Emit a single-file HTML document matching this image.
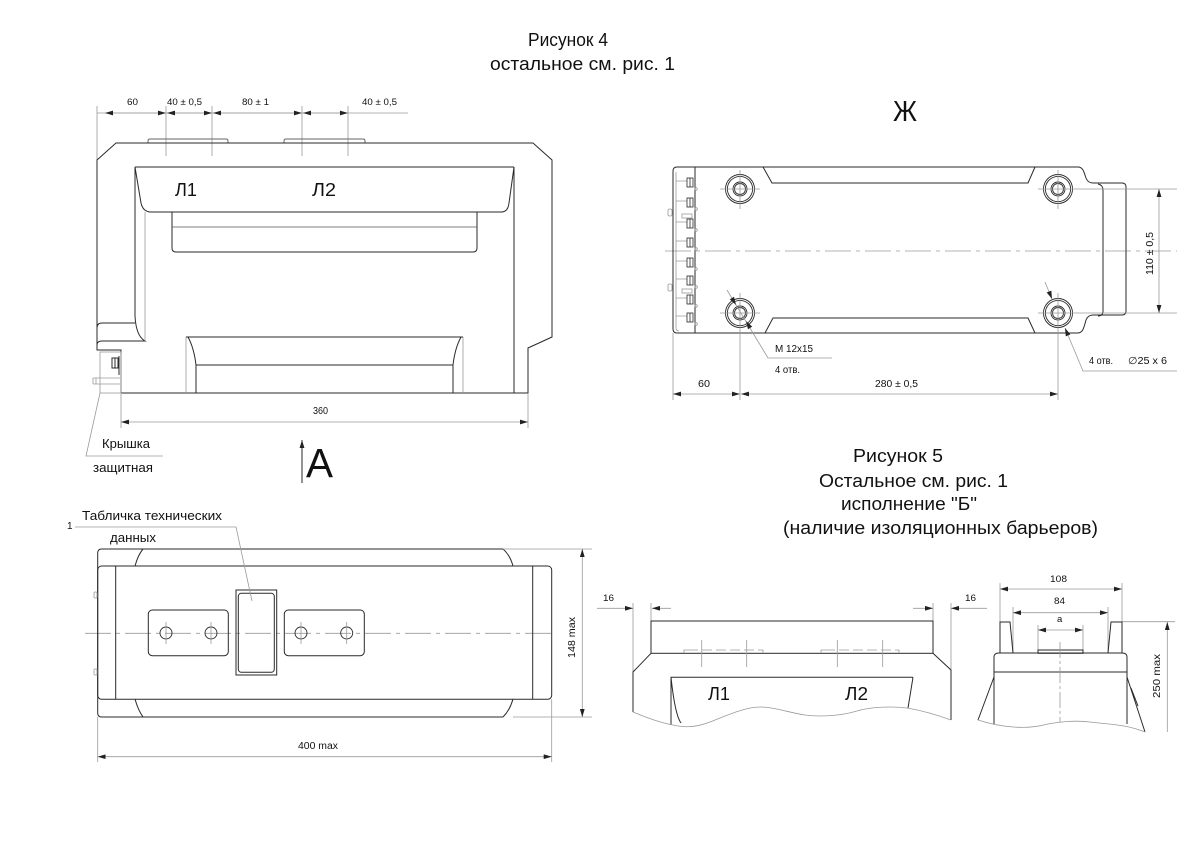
<!DOCTYPE html>
<html><head><meta charset="utf-8"><style>
html,body{margin:0;padding:0;background:#fff;}
svg{display:block;}
text{font-family:"Liberation Sans","DejaVu Sans",sans-serif;fill:#111;}
.d{stroke:#2a2a2a;stroke-width:1;fill:none;}
.g{stroke:#9a9a9a;stroke-width:.8;fill:none;}
.c{stroke:#9a9a9a;stroke-width:.8;fill:none;stroke-dasharray:26,5,4,5;}
.m{stroke:#9a9a9a;stroke-width:.8;fill:none;}
</style></head><body>
<svg width="1191" height="842" viewBox="0 0 1191 842" xmlns="http://www.w3.org/2000/svg">
<defs>
<marker id="ar" viewBox="0 0 10 6" refX="10" refY="3" markerWidth="8" markerHeight="4.8" orient="auto-start-reverse" markerUnits="userSpaceOnUse"><path d="M0,0L10,3L0,6z" fill="#222"/></marker>
</defs>
<rect width="1191" height="842" fill="#fff"/>

<!-- Titles -->
<text x="528" y="46" font-size="18" textLength="80" lengthAdjust="spacingAndGlyphs">Рисунок 4</text>
<text x="490" y="70" font-size="18" textLength="185" lengthAdjust="spacingAndGlyphs">остальное см. рис. 1</text>
<text x="893" y="121" font-size="29" textLength="24" lengthAdjust="spacingAndGlyphs">Ж</text>

<text x="853" y="462" font-size="18" textLength="90" lengthAdjust="spacingAndGlyphs">Рисунок 5</text>
<text x="819" y="487" font-size="18" textLength="189" lengthAdjust="spacingAndGlyphs">Остальное см. рис. 1</text>
<text x="841" y="510" font-size="18" textLength="136" lengthAdjust="spacingAndGlyphs">исполнение "Б"</text>
<text x="783" y="534" font-size="18" textLength="315" lengthAdjust="spacingAndGlyphs">(наличие изоляционных барьеров)</text>

<!-- ========== Top-left drawing (Fig 4 front) ========== -->
<line class="g" x1="97" y1="113" x2="408" y2="113"/>
<line class="m" x1="105" y1="113" x2="166" y2="113" marker-start="url(#ar)" marker-end="url(#ar)"/>
<line class="m" x1="167" y1="113" x2="212" y2="113" marker-start="url(#ar)" marker-end="url(#ar)"/>
<line class="m" x1="213" y1="113" x2="302" y2="113" marker-start="url(#ar)" marker-end="url(#ar)"/>
<line class="m" x1="303" y1="113" x2="348" y2="113" marker-start="url(#ar)" marker-end="url(#ar)"/>
<path class="g" d="M97,106V160 M166,106V156 M212,106V156 M302,106V156 M348,106V156"/>
<text x="127" y="105" font-size="9.5" textLength="11" lengthAdjust="spacingAndGlyphs">60</text>
<text x="167" y="105" font-size="9.5" textLength="35" lengthAdjust="spacingAndGlyphs">40 ± 0,5</text>
<text x="242" y="105" font-size="9.5" textLength="27" lengthAdjust="spacingAndGlyphs">80 ± 1</text>
<text x="362" y="105" font-size="9.5" textLength="35" lengthAdjust="spacingAndGlyphs">40 ± 0,5</text>

<path class="d" style="stroke:#666" d="M148,143V141Q148,139 150,139H226Q228,139 228,141V143 M284,143V141Q284,139 286,139H363Q365,139 365,141V143"/>
<path class="d" d="M97,160L116,143H533L552,160V337L528,348V393H121V350H97Z"/>
<path class="d" d="M135,167H514 M135,167L141,203Q143,212 151,212H501Q508,212 509,203L514,167"/>
<path class="d" d="M135,167V316Q136,336 145,341H102Q97,341 97,345"/>
<path class="d" d="M97,328Q97,323 102,323H135"/>
<line class="g" x1="145" y1="212" x2="145" y2="341"/>
<line class="d" x1="514" y1="167" x2="514" y2="393"/>
<path class="d" d="M172,212V248Q172,252 176,252H473Q477,252 477,248V212"/>
<line class="d" style="stroke:#555;stroke-width:.8" x1="172" y1="227" x2="477" y2="227"/>
<path class="g" d="M186,393V337 M463,337V393"/>
<path class="d" d="M186,337H463 M188,337Q194,348 196,365V393 M461,337Q455,348 453,365V393 M196,365H453"/>
<rect class="g" x="100" y="352" width="21" height="41"/>
<rect class="d" x="112" y="358" width="6" height="10"/>
<line class="d" x1="115" y1="358" x2="115" y2="368"/>
<line class="d" x1="119" y1="356" x2="119" y2="375"/>
<path class="g" d="M93,378H120 M93,384H120 M93,378V384 M96,378V384"/>
<path class="g" d="M121,394V428 M528,394V428"/>
<line class="m" x1="121" y1="422" x2="528" y2="422" marker-start="url(#ar)" marker-end="url(#ar)"/>
<text x="313" y="414" font-size="10" textLength="15" lengthAdjust="spacingAndGlyphs">360</text>
<path class="g" d="M100,393L86,456H163"/>
<text x="102" y="448" font-size="13" textLength="48" lengthAdjust="spacingAndGlyphs">Крышка</text>
<text x="93" y="472" font-size="13" textLength="60" lengthAdjust="spacingAndGlyphs">защитная</text>
<line class="d" x1="302" y1="483" x2="302" y2="440" marker-end="url(#ar)"/>
<text x="306" y="477" font-size="41" textLength="27" lengthAdjust="spacingAndGlyphs">А</text>
<text x="175" y="196" font-size="18" textLength="22" lengthAdjust="spacingAndGlyphs">Л1</text>
<text x="312" y="196" font-size="18" textLength="24" lengthAdjust="spacingAndGlyphs">Л2</text>

<!-- ========== Top-right drawing (view Ж) ========== -->
<line class="c" x1="665" y1="251" x2="1177" y2="251"/>
<path class="d" d="M673,171Q673,167 677,167H1078C1083,167 1084,172 1086,178Q1088,183 1093,183H1122Q1126,183 1126,187V311Q1126,315 1122,315H1093Q1088,315 1086,320C1084,327 1083,333 1078,333H677Q673,333 673,329Z"/>
<path class="d" d="M1098,184Q1103,185 1103,190V311Q1103,316 1098,316"/>
<line class="d" x1="695" y1="167" x2="695" y2="333"/>
<path class="g" d="M676,172V328Q676,331 679,331"/>
<path class="d" d="M763,167L772,183H1028L1035,167 M765,333L773,318H1028L1035,333"/>
<g>
<path class="g" d="M676,181H687 M676,201H687 M676,222H687 M676,241H687 M676,261H687 M676,279H687 M676,298H687 M676,316H687"/>
<g class="d" style="stroke-width:.8">
<rect x="687" y="178" width="6" height="9"/><rect x="687" y="198" width="6" height="9"/><rect x="687" y="219" width="6" height="9"/><rect x="687" y="238" width="6" height="9"/><rect x="687" y="258" width="6" height="9"/><rect x="687" y="276" width="6" height="9"/><rect x="687" y="295" width="6" height="9"/><rect x="687" y="313" width="6" height="9"/>
<path d="M690,178V187 M690,198V207 M690,219V228 M690,238V247 M690,258V267 M690,276V285 M690,295V304 M690,313V322"/>
</g>
<g class="g"><circle cx="696" cy="189" r="1.3"/><circle cx="696" cy="209" r="1.3"/><circle cx="696" cy="230" r="1.3"/><circle cx="696" cy="249" r="1.3"/><circle cx="696" cy="269" r="1.3"/><circle cx="696" cy="287" r="1.3"/><circle cx="696" cy="306" r="1.3"/><circle cx="696" cy="324" r="1.3"/></g>
<rect class="g" x="668" y="209" width="4" height="7" rx="1.5"/>
<rect class="g" x="668" y="284" width="4" height="7" rx="1.5"/>
<rect class="g" x="682" y="214" width="10" height="4"/>
<rect class="g" x="682" y="289" width="10" height="4"/>
</g>
<g class="d" style="stroke-width:.9">
<circle cx="740" cy="189" r="14.5"/><circle cx="740" cy="189" r="12.6"/><circle cx="740" cy="189" r="7"/><circle cx="740" cy="189" r="5.5"/>
<circle cx="1058" cy="189" r="14.5"/><circle cx="1058" cy="189" r="12.6"/><circle cx="1058" cy="189" r="7"/><circle cx="1058" cy="189" r="5.5"/>
<circle cx="740" cy="313" r="14.5"/><circle cx="740" cy="313" r="12.6"/><circle cx="740" cy="313" r="7"/><circle cx="740" cy="313" r="5.5"/>
<circle cx="1058" cy="313" r="14.5"/><circle cx="1058" cy="313" r="12.6"/><circle cx="1058" cy="313" r="7"/><circle cx="1058" cy="313" r="5.5"/>
</g>
<path class="g" d="M720,189H760 M740,170V209 M1038,189H1177 M1058,170V209 M720,313H760 M740,293V400 M1038,313H1177 M1058,293V400 M673,333V400"/>
<line class="m" x1="673" y1="394" x2="740" y2="394" marker-start="url(#ar)" marker-end="url(#ar)"/>
<line class="m" x1="741" y1="394" x2="1058" y2="394" marker-start="url(#ar)" marker-end="url(#ar)"/>
<text x="698" y="387" font-size="10" textLength="12" lengthAdjust="spacingAndGlyphs">60</text>
<text x="875" y="387" font-size="10" textLength="43" lengthAdjust="spacingAndGlyphs">280 ± 0,5</text>
<line class="m" x1="1159" y1="189" x2="1159" y2="313" marker-start="url(#ar)" marker-end="url(#ar)"/>
<text transform="translate(1153,275) rotate(-90)" font-size="10" textLength="43" lengthAdjust="spacingAndGlyphs">110 ± 0,5</text>
<path class="g" d="M727,290L768,358H832"/>
<path d="M736,305L734,296.8L729.8,299.4Z M746,321L752.2,326.6L748,329.2Z" fill="#222"/>
<path class="g" d="M1045,282L1052,299 M1065,328L1083,371H1177"/>
<path d="M1052,299L1051.3,290.6L1046.7,292.5Z M1065,328L1070.4,334.4L1065.8,336.4Z" fill="#222"/>
<text x="775" y="352" font-size="10" textLength="38" lengthAdjust="spacingAndGlyphs">М 12x15</text>
<text x="775" y="373" font-size="10" textLength="25" lengthAdjust="spacingAndGlyphs">4 отв.</text>
<text x="1089" y="364" font-size="10" textLength="24" lengthAdjust="spacingAndGlyphs">4 отв.</text>
<text x="1128" y="364" font-size="10" textLength="39" lengthAdjust="spacingAndGlyphs">∅25 x 6</text>

<!-- ========== Bottom-left drawing (view A) ========== -->
<line class="c" x1="85" y1="633.3" x2="555" y2="633.3"/>
<path class="d" d="M101.7,549H503 M97.7,553Q97.7,549 101.7,549 M97.7,553V713Q97.7,717 101.7,717H503"/>
<path class="d" d="M143,549Q138,555 135,566 M503,549Q510,555 513,566 M135,699Q138,710 143,717 M513,699Q510,710 503,717"/>
<rect class="d" x="97.7" y="566" width="454" height="133.3" rx="4"/>
<path class="d" d="M115.7,566V699.3 M532.7,566V699.3"/>
<rect class="d" x="148.3" y="610" width="80" height="45.7" rx="4"/>
<rect class="d" x="284.3" y="610" width="80" height="45.7" rx="4"/>
<g class="d" style="stroke-width:.9"><circle cx="166" cy="633" r="6"/><circle cx="211" cy="633" r="6"/><circle cx="301" cy="633" r="6"/><circle cx="346.7" cy="633" r="6"/></g>
<path class="g" d="M166,622V644 M211,622V644 M301,622V644 M346.7,622V644"/>
<rect class="d" x="236" y="590" width="40.7" height="85"/>
<rect class="d" x="238.3" y="593.3" width="36" height="79" rx="3"/>
<rect class="g" x="94" y="592" width="3" height="6" rx="1"/>
<rect class="g" x="94" y="669" width="3" height="6" rx="1"/>
<path class="g" d="M75,527H236L252,601"/>
<text x="67" y="529" font-size="10">1</text>
<text x="82" y="520" font-size="13" textLength="140" lengthAdjust="spacingAndGlyphs">Табличка технических</text>
<text x="110" y="542" font-size="13" textLength="46" lengthAdjust="spacingAndGlyphs">данных</text>
<path class="g" d="M503,549H592 M513,717H592"/>
<line class="m" x1="582.3" y1="549" x2="582.3" y2="717" marker-start="url(#ar)" marker-end="url(#ar)"/>
<text transform="translate(575,658) rotate(-90)" font-size="10" textLength="41" lengthAdjust="spacingAndGlyphs">148  max</text>
<path class="g" d="M97.7,717V762 M551.7,699V762"/>
<line class="m" x1="97.7" y1="756.7" x2="551.7" y2="756.7" marker-start="url(#ar)" marker-end="url(#ar)"/>
<text x="298" y="749" font-size="10" textLength="40" lengthAdjust="spacingAndGlyphs">400  max</text>

<!-- ========== Bottom-right left view ========== -->
<path class="g" d="M633,603V712 M651,603V621 M933,603V621 M951,603V720"/>
<line class="m" x1="597" y1="608.3" x2="633" y2="608.3" marker-end="url(#ar)"/>
<line class="m" x1="671" y1="608.3" x2="652" y2="608.3" marker-end="url(#ar)"/>
<line class="m" x1="913" y1="608.3" x2="933" y2="608.3" marker-end="url(#ar)"/>
<line class="m" x1="987" y1="608.3" x2="951" y2="608.3" marker-end="url(#ar)"/>
<text x="603" y="601" font-size="9.5" textLength="11" lengthAdjust="spacingAndGlyphs">16</text>
<text x="965" y="601" font-size="9.5" textLength="11" lengthAdjust="spacingAndGlyphs">16</text>
<rect class="d" x="651" y="621" width="282" height="32.3"/>
<path class="g" d="M684,653V650H688 M758,650H763V653 M821,653V650H825 M895,650H899V653"/>
<path class="g" style="stroke-dasharray:10,4" d="M688,650H758 M825,650H895"/>
<path class="g" d="M701.7,640V667 M746.7,640V667 M837.3,640V667 M882.7,640V667"/>
<path class="d" d="M651,653.3L633,672V712 M933,653.3L951,670V720"/>
<path class="d" d="M671,725V677.3H913 M671,677.3Q675,715 681,723 M913,677.3L908,708"/>
<path class="g" d="M633,712C645,717 660,723 678,726C690,728 700,726 710,722C725,716 745,707 760,707C775,707 790,713 805,715C820,717 840,716 857,711C870,707 890,706 907,708C925,711 940,716 951,720"/>
<text x="708" y="700" font-size="18" textLength="22" lengthAdjust="spacingAndGlyphs">Л1</text>
<text x="845" y="700" font-size="18" textLength="23" lengthAdjust="spacingAndGlyphs">Л2</text>

<!-- ========== Bottom-right right view ========== -->
<path class="g" d="M1000,583V622 M1122,583V622 M1013,607V653 M1108,607V653 M1038,625V650 M1083,625V650 M1122,621.7H1175"/>
<line class="m" x1="1000" y1="589" x2="1122" y2="589" marker-start="url(#ar)" marker-end="url(#ar)"/>
<line class="m" x1="1013" y1="612.7" x2="1108" y2="612.7" marker-start="url(#ar)" marker-end="url(#ar)"/>
<line class="m" x1="1038" y1="630" x2="1083" y2="630" marker-start="url(#ar)" marker-end="url(#ar)"/>
<text x="1050" y="582" font-size="9.5" textLength="17" lengthAdjust="spacingAndGlyphs">108</text>
<text x="1054" y="604" font-size="9.5" textLength="11" lengthAdjust="spacingAndGlyphs">84</text>
<text x="1057" y="622" font-size="9.5">a</text>
<path class="d" d="M994,724V657Q994,653 999,653H1122Q1127,653 1127,657V724"/>
<line class="d" x1="994" y1="672" x2="1127" y2="672"/>
<path class="d" d="M994,677L978,720 M1127,677L1145,732 M1131,688L1138,706"/>
<path class="d" d="M1000,653V622H1010L1013,653 M1108,653L1111,622H1122V653"/>
<rect class="d" x="1038" y="650" width="45" height="3.3"/>
<line class="g" style="stroke-dasharray:16,3,3,3" x1="1060" y1="642" x2="1060" y2="722"/>
<path class="g" d="M978,720C990,724 1000,726 1013,727C1025,728 1037,727 1048,724C1058,722 1075,720 1090,722C1105,724 1125,724 1145,732"/>
<line class="m" x1="1167.3" y1="732" x2="1167.3" y2="622" marker-end="url(#ar)"/>
<text transform="translate(1160,698) rotate(-90)" font-size="10" textLength="44" lengthAdjust="spacingAndGlyphs">250 max</text>
</svg>
</body></html>
